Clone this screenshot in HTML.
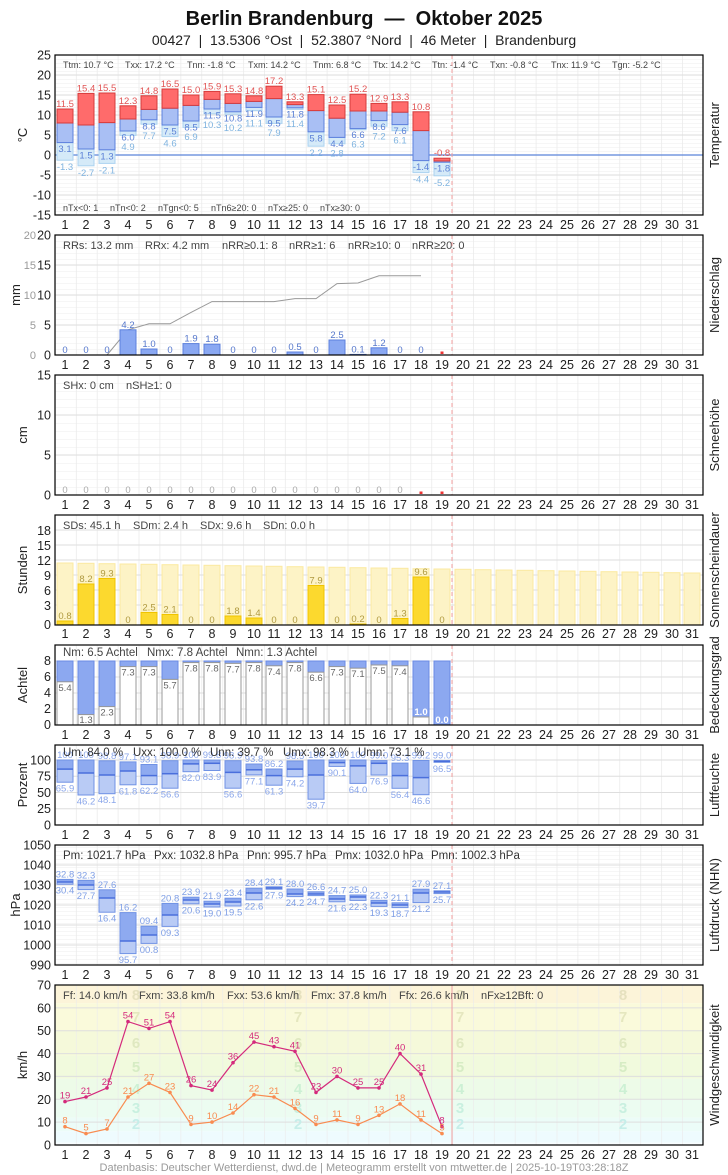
<!DOCTYPE html>
<html><head><meta charset="utf-8"><style>
body{margin:0;background:#fff}
svg{display:block;font-family:"Liberation Sans",sans-serif}
.r{fill:#ff6b6b;stroke:#d63b3b}.b{fill:#a9bff4;stroke:#5c80dd}.l{fill:#d5eaf8;stroke:#acd3f0}
.tr{fill:#e25555}.tb{fill:#5b80d6}.tl{fill:#80b4e0}
.sm{font-size:9.5px;text-anchor:middle}
.st{font-size:9px;fill:#444}
.st2{font-size:11px;fill:#444}
.yt{font-size:12.5px;fill:#222;text-anchor:end}
.dl{font-size:12.5px;fill:#222;text-anchor:middle}
.ax{font-size:13px;fill:#222}
.frame{fill:none;stroke:#000;stroke-width:1.2}
.hg line{stroke:#dedede;stroke-width:1}
.hd{fill:#d4e0f8;stroke:#7092e4}.hl{fill:#b9cbf5;stroke:#7092e4}
.mn{stroke:#4a6fdc;stroke-width:1.5}
.hb{fill:#8eaaf0}
.cb{fill:#8ca8f0;stroke:#6a8ae4}.cw{fill:#fff;stroke:#999}
.ct{font-size:9.5px;fill:#666;text-anchor:middle}
.sb{fill:#fdf3c6;stroke:#fbe9a0}.sy{fill:#fcd92e;stroke:#f0c400}
.sl{font-size:9.5px;fill:#b09a40;text-anchor:middle}
.pb{font-size:9.5px;fill:#5577cc;text-anchor:middle}
.bf{font-size:15px;font-weight:bold;text-anchor:middle}
</style></head><body>
<svg width="728" height="1175" viewBox="0 0 728 1175" xmlns="http://www.w3.org/2000/svg">
<defs>
<pattern id="vg" x="55" y="0" width="20.9" height="10" patternUnits="userSpaceOnUse"><rect x="-0.8" y="0" width="1.6" height="10" fill="#ebebeb"/></pattern>
<pattern id="m4" x="0" y="55" width="10" height="4" patternUnits="userSpaceOnUse"><rect x="0" y="0" width="10" height="0.6" fill="#f0f0f0"/></pattern>
<pattern id="m6" x="0" y="235" width="10" height="6" patternUnits="userSpaceOnUse"><rect x="0" y="0" width="10" height="0.6" fill="#f0f0f0"/></pattern>
<pattern id="m8" x="0" y="375" width="10" height="8" patternUnits="userSpaceOnUse"><rect x="0" y="0" width="10" height="0.6" fill="#f0f0f0"/></pattern>
<g id="dl">
<text class="dl" x="65">1</text><text class="dl" x="86">2</text><text class="dl" x="107">3</text><text class="dl" x="128">4</text><text class="dl" x="149">5</text><text class="dl" x="170">6</text><text class="dl" x="191">7</text><text class="dl" x="212">8</text><text class="dl" x="233">9</text><text class="dl" x="254">10</text><text class="dl" x="274">11</text><text class="dl" x="295">12</text><text class="dl" x="316">13</text><text class="dl" x="337">14</text><text class="dl" x="358">15</text><text class="dl" x="379">16</text><text class="dl" x="400">17</text><text class="dl" x="421">18</text><text class="dl" x="442">19</text><text class="dl" x="463">20</text><text class="dl" x="483">21</text><text class="dl" x="504">22</text><text class="dl" x="525">23</text><text class="dl" x="546">24</text><text class="dl" x="567">25</text><text class="dl" x="588">26</text><text class="dl" x="609">27</text><text class="dl" x="630">28</text><text class="dl" x="651">29</text><text class="dl" x="672">30</text><text class="dl" x="692">31</text>
</g>
</defs>

<text x="364" y="25" text-anchor="middle" font-size="20" font-weight="bold" fill="#111">Berlin Brandenburg&#160; — &#160;Oktober 2025</text>
<text x="364" y="45" text-anchor="middle" font-size="14" fill="#222">00427&#160; | &#160;13.5306 °Ost&#160; | &#160;52.3807 °Nord&#160; | &#160;46 Meter&#160; | &#160;Brandenburg</text>

<!-- ============ TEMPERATURE ============ -->
<rect x="55" y="55" width="648" height="160" fill="url(#m4)"/>
<rect x="55" y="55" width="648" height="160" fill="url(#vg)"/>
<g class="hg"><line x1="55" x2="703" y1="75" y2="75"/><line x1="55" x2="703" y1="95" y2="95"/><line x1="55" x2="703" y1="115" y2="115"/><line x1="55" x2="703" y1="135" y2="135"/><line x1="55" x2="703" y1="175" y2="175"/><line x1="55" x2="703" y1="195" y2="195"/></g>
<line x1="55" x2="703" y1="155" y2="155" stroke="#5b85d9" stroke-width="1.3"/>
<g class="yt"><text x="51" y="59.5">25</text><text x="51" y="79.5">20</text><text x="51" y="99.5">15</text><text x="51" y="119.5">10</text><text x="51" y="139.5">5</text><text x="51" y="159.5">0</text><text x="51" y="179.5">-5</text><text x="51" y="199.5">-10</text><text x="51" y="219.5">-15</text></g>
<g class="st"><text x="63" y="68">Ttm: 10.7 °C</text><text x="125" y="68">Txx: 17.2 °C</text><text x="187" y="68">Tnn: -1.8 °C</text><text x="248" y="68">Txm: 14.2 °C</text><text x="313" y="68">Tnm: 6.8 °C</text><text x="373" y="68">Ttx: 14.2 °C</text><text x="432" y="68">Ttn: -1.4 °C</text><text x="490" y="68">Txn: -0.8 °C</text><text x="551" y="68">Tnx: 11.9 °C</text><text x="612" y="68">Tgn: -5.2 °C</text>
<text x="63" y="211">nTx&lt;0: 1</text><text x="110" y="211">nTn&lt;0: 2</text><text x="158" y="211">nTgn&lt;0: 5</text><text x="211" y="211">nTn6≥20: 0</text><text x="268" y="211">nTx≥25: 0</text><text x="320" y="211">nTx≥30: 0</text></g>
<g class="sm">
<g transform="translate(65,0)"><rect class="l" x="-8" width="16" y="142.6" height="17.6"/><rect class="b" x="-8" width="16" y="123" height="19.6"/><rect class="r" x="-8" width="16" y="109" height="14"/><text class="tr" y="107">11.5</text><text class="tb" y="152.1">3.1</text><text class="tl" y="170.2">-1.3</text></g>
<g transform="translate(86,0)"><rect class="l" x="-8" width="16" y="149" height="16.8"/><rect class="b" x="-8" width="16" y="125" height="24"/><rect class="r" x="-8" width="16" y="93.4" height="31.6"/><text class="tr" y="91.4">15.4</text><text class="tb" y="158.5">1.5</text><text class="tl" y="175.8">-2.7</text></g>
<g transform="translate(107,0)"><rect class="l" x="-8" width="16" y="149.8" height="13.6"/><rect class="b" x="-8" width="16" y="122.6" height="27.2"/><rect class="r" x="-8" width="16" y="93" height="29.6"/><text class="tr" y="91">15.5</text><text class="tb" y="159.3">1.3</text><text class="tl" y="173.4">-2.1</text></g>
<g transform="translate(128,0)"><rect class="l" x="-8" width="16" y="131" height="4.4"/><rect class="b" x="-8" width="16" y="119" height="12"/><rect class="r" x="-8" width="16" y="105.8" height="13.2"/><text class="tr" y="103.8">12.3</text><text class="tb" y="140.5">6.0</text><text class="tl" y="150">4.9</text></g>
<g transform="translate(149,0)"><rect class="l" x="-8" width="16" y="119.8" height="4.4"/><rect class="b" x="-8" width="16" y="109.4" height="10.4"/><rect class="r" x="-8" width="16" y="95.8" height="13.6"/><text class="tr" y="93.8">14.8</text><text class="tb" y="129.3">8.8</text><text class="tl" y="138.8">7.7</text></g>
<g transform="translate(170,0)"><rect class="l" x="-8" width="16" y="125" height="11.6"/><rect class="b" x="-8" width="16" y="108.2" height="16.8"/><rect class="r" x="-8" width="16" y="89" height="19.2"/><text class="tr" y="87">16.5</text><text class="tb" y="134.5">7.5</text><text class="tl" y="146.6">4.6</text></g>
<g transform="translate(191,0)"><rect class="l" x="-8" width="16" y="121" height="6.4"/><rect class="b" x="-8" width="16" y="105.4" height="15.6"/><rect class="r" x="-8" width="16" y="95" height="10.4"/><text class="tr" y="93">15.0</text><text class="tb" y="130.5">8.5</text><text class="tl" y="140">6.9</text></g>
<g transform="translate(212,0)"><rect class="l" x="-8" width="16" y="109" height="4.8"/><rect class="b" x="-8" width="16" y="99.4" height="9.6"/><rect class="r" x="-8" width="16" y="91.4" height="8"/><text class="tr" y="89.4">15.9</text><text class="tb" y="118.5">11.5</text><text class="tl" y="128">10.3</text></g>
<g transform="translate(233,0)"><rect class="l" x="-8" width="16" y="111.8" height="2.4"/><rect class="b" x="-8" width="16" y="103.4" height="8.4"/><rect class="r" x="-8" width="16" y="93.8" height="9.6"/><text class="tr" y="91.8">15.3</text><text class="tb" y="121.3">10.8</text><text class="tl" y="130.8">10.2</text></g>
<g transform="translate(254,0)"><rect class="l" x="-8" width="16" y="107.4" height="3.2"/><rect class="b" x="-8" width="16" y="101.4" height="6"/><rect class="r" x="-8" width="16" y="95.8" height="5.6"/><text class="tr" y="93.8">14.8</text><text class="tb" y="116.9">11.9</text><text class="tl" y="126.4">11.1</text></g>
<g transform="translate(274,0)"><rect class="l" x="-8" width="16" y="117" height="6.4"/><rect class="b" x="-8" width="16" y="98.6" height="18.4"/><rect class="r" x="-8" width="16" y="86.2" height="12.4"/><text class="tr" y="84.2">17.2</text><text class="tb" y="126.5">9.5</text><text class="tl" y="136">7.9</text></g>
<g transform="translate(295,0)"><rect class="l" x="-8" width="16" y="107.8" height="1.6"/><rect class="b" x="-8" width="16" y="104.6" height="3.2"/><rect class="r" x="-8" width="16" y="101.8" height="2.8"/><text class="tr" y="99.8">13.3</text><text class="tb" y="117.3">11.8</text><text class="tl" y="126.8">11.4</text></g>
<g transform="translate(316,0)"><rect class="l" x="-8" width="16" y="131.8" height="14.4"/><rect class="b" x="-8" width="16" y="110.6" height="21.2"/><rect class="r" x="-8" width="16" y="94.6" height="16"/><text class="tr" y="92.6">15.1</text><text class="tb" y="141.3">5.8</text><text class="tl" y="156.2">2.2</text></g>
<g transform="translate(337,0)"><rect class="l" x="-8" width="16" y="137.4" height="6.4"/><rect class="b" x="-8" width="16" y="118.2" height="19.2"/><rect class="r" x="-8" width="16" y="105" height="13.2"/><text class="tr" y="103">12.5</text><text class="tb" y="146.9">4.4</text><text class="tl" y="156.4">2.8</text></g>
<g transform="translate(358,0)"><rect class="l" x="-8" width="16" y="128.6" height="1.2"/><rect class="b" x="-8" width="16" y="111" height="17.6"/><rect class="r" x="-8" width="16" y="94.2" height="16.8"/><text class="tr" y="92.2">15.2</text><text class="tb" y="138.1">6.6</text><text class="tl" y="147.6">6.3</text></g>
<g transform="translate(379,0)"><rect class="l" x="-8" width="16" y="120.6" height="5.6"/><rect class="b" x="-8" width="16" y="111" height="9.6"/><rect class="r" x="-8" width="16" y="103.4" height="7.6"/><text class="tr" y="101.4">12.9</text><text class="tb" y="130.1">8.6</text><text class="tl" y="139.6">7.2</text></g>
<g transform="translate(400,0)"><rect class="l" x="-8" width="16" y="124.6" height="6"/><rect class="b" x="-8" width="16" y="112.2" height="12.4"/><rect class="r" x="-8" width="16" y="101.8" height="10.4"/><text class="tr" y="99.8">13.3</text><text class="tb" y="134.1">7.6</text><text class="tl" y="143.6">6.1</text></g>
<g transform="translate(421,0)"><rect class="l" x="-8" width="16" y="160.6" height="12"/><rect class="b" x="-8" width="16" y="130.6" height="30"/><rect class="r" x="-8" width="16" y="111.8" height="18.8"/><text class="tr" y="109.8">10.8</text><text class="tb" y="170.1">-1.4</text><text class="tl" y="182.6">-4.4</text></g>
<g transform="translate(442,0)"><rect class="l" x="-8" width="16" y="162.2" height="13.6"/><rect class="b" x="-8" width="16" y="161" height="1.2"/><rect class="r" x="-8" width="16" y="158.2" height="2.8"/><text class="tr" y="156.2">-0.8</text><text class="tb" y="171.7">-1.8</text><text class="tl" y="185.8">-5.2</text></g>
</g>
<line x1="452" x2="452" y1="55" y2="215" stroke="#f4a0a0" stroke-dasharray="4,3"/>
<rect class="frame" x="55" y="55" width="648" height="160"/>
<use href="#dl" y="229"/>
<text class="ax" transform="translate(27,135) rotate(-90)" text-anchor="middle">°C</text>
<text class="ax" transform="translate(719,135) rotate(-90)" text-anchor="middle">Temperatur</text>

<!-- ============ PRECIP ============ -->
<rect x="55" y="235" width="648" height="120" fill="url(#m6)"/>
<rect x="55" y="235" width="648" height="120" fill="url(#vg)"/>
<g class="hg"><line x1="55" x2="703" y1="265" y2="265"/><line x1="55" x2="703" y1="295" y2="295"/><line x1="55" x2="703" y1="325" y2="325"/></g>
<g class="yt"><text x="51" y="239.5">20</text><text x="51" y="269.5">15</text><text x="51" y="299.5">10</text><text x="51" y="329.5">5</text><text x="51" y="359.5">0</text></g>
<g class="yt" style="fill:#999;font-size:11px"><text x="36" y="239">20</text><text x="36" y="269">15</text><text x="36" y="299">10</text><text x="36" y="329">5</text><text x="36" y="359">0</text></g>
<g class="st2"><text x="63" y="249">RRs: 13.2 mm</text><text x="145" y="249">RRx: 4.2 mm</text><text x="222" y="249">nRR≥0.1: 8</text><text x="289" y="249">nRR≥1: 6</text><text x="348" y="249">nRR≥10: 0</text><text x="412" y="249">nRR≥20: 0</text></g>
<polyline fill="none" stroke="#999" stroke-width="1" points="107,355 128,329.8 149,323.8 170,323.8 191,312.4 212,301.6 233,301.6 254,301.6 274,301.6 295,298.6 316,298.6 337,283.6 358,283 379,275.8 400,275.8 421,275.8"/>
<g fill="#8aa8f2" stroke="#5c80dd">
<rect x="120" y="329.8" width="16" height="25.2"/><rect x="141" y="349" width="16" height="6"/><rect x="183" y="343.6" width="16" height="11.4"/><rect x="204" y="344.2" width="16" height="10.8"/><rect x="287" y="352" width="16" height="3"/><rect x="329" y="340" width="16" height="15"/><rect x="350" y="354.4" width="16" height="0.6"/><rect x="371" y="347.8" width="16" height="7.2"/></g>
<g class="pb"><text x="65" y="353">0</text><text x="86" y="353">0</text><text x="107" y="353">0</text><text x="128" y="327.8">4.2</text><text x="149" y="347">1.0</text><text x="170" y="353">0</text><text x="191" y="341.6">1.9</text><text x="212" y="342.2">1.8</text><text x="233" y="353">0</text><text x="254" y="353">0</text><text x="274" y="353">0</text><text x="295" y="350">0.5</text><text x="316" y="353">0</text><text x="337" y="338">2.5</text><text x="358" y="352.4">0.1</text><text x="379" y="345.8">1.2</text><text x="400" y="353">0</text><text x="421" y="353">0</text></g>
<rect x="440.5" y="351.5" width="3" height="2.5" fill="#e33"/>
<line x1="452" x2="452" y1="235" y2="355" stroke="#f4a0a0" stroke-dasharray="4,3"/>
<rect class="frame" x="55" y="235" width="648" height="120"/>
<use href="#dl" y="369"/>
<text class="ax" transform="translate(20,295) rotate(-90)" text-anchor="middle">mm</text>
<text class="ax" transform="translate(719,295) rotate(-90)" text-anchor="middle">Niederschlag</text>

<!-- ============ SNOW ============ -->
<rect x="55" y="375" width="648" height="120" fill="url(#m8)"/>
<rect x="55" y="375" width="648" height="120" fill="url(#vg)"/>
<g class="hg"><line x1="55" x2="703" y1="415" y2="415"/><line x1="55" x2="703" y1="455" y2="455"/></g>
<g class="yt"><text x="51" y="379.5">15</text><text x="51" y="419.5">10</text><text x="51" y="459.5">5</text><text x="51" y="499.5">0</text></g>
<g class="st2"><text x="63" y="389">SHx: 0 cm</text><text x="126" y="389">nSH≥1: 0</text></g>
<g class="sm" fill="#aaa"><text x="65" y="493">0</text><text x="86" y="493">0</text><text x="107" y="493">0</text><text x="128" y="493">0</text><text x="149" y="493">0</text><text x="170" y="493">0</text><text x="191" y="493">0</text><text x="212" y="493">0</text><text x="233" y="493">0</text><text x="254" y="493">0</text><text x="274" y="493">0</text><text x="295" y="493">0</text><text x="316" y="493">0</text><text x="337" y="493">0</text><text x="358" y="493">0</text><text x="379" y="493">0</text><text x="400" y="493">0</text></g>
<rect x="419.5" y="491.5" width="3" height="2.5" fill="#e33"/><rect x="440.5" y="491.5" width="3" height="2.5" fill="#e33"/>
<line x1="452" x2="452" y1="375" y2="495" stroke="#f4a0a0" stroke-dasharray="4,3"/>
<rect class="frame" x="55" y="375" width="648" height="120"/>
<use href="#dl" y="509"/>
<text class="ax" transform="translate(27,435) rotate(-90)" text-anchor="middle">cm</text>
<text class="ax" transform="translate(719,435) rotate(-90)" text-anchor="middle">Schneehöhe</text>

<!-- ============ SUN ============ -->
<rect x="55" y="515" width="648" height="110" fill="url(#vg)"/>
<g class="hg"><line x1="55" x2="703" y1="530" y2="530"/><line x1="55" x2="703" y1="545" y2="545"/><line x1="55" x2="703" y1="560" y2="560"/><line x1="55" x2="703" y1="575" y2="575"/><line x1="55" x2="703" y1="590" y2="590"/><line x1="55" x2="703" y1="605" y2="605"/></g>
<g class="yt"><text x="51" y="535">18</text><text x="51" y="550">15</text><text x="51" y="565">12</text><text x="51" y="580">9</text><text x="51" y="595">6</text><text x="51" y="610">3</text><text x="51" y="629">0</text></g>
<g class="sb">
<rect x="57" y="563" width="16" height="62"/><rect x="78" y="563.3" width="16" height="61.7"/><rect x="99" y="563.7" width="16" height="61.3"/><rect x="120" y="564" width="16" height="61"/><rect x="141" y="564.3" width="16" height="60.7"/><rect x="162" y="564.7" width="16" height="60.3"/><rect x="183" y="565" width="16" height="60"/><rect x="204" y="565.3" width="16" height="59.7"/><rect x="225" y="565.7" width="16" height="59.3"/><rect x="246" y="566" width="16" height="59"/><rect x="266" y="566.3" width="16" height="58.7"/><rect x="287" y="566.7" width="16" height="58.3"/><rect x="308" y="567" width="16" height="58"/><rect x="329" y="567.3" width="16" height="57.7"/><rect x="350" y="567.7" width="16" height="57.3"/><rect x="371" y="568" width="16" height="57"/><rect x="392" y="568.3" width="16" height="56.7"/><rect x="413" y="568.7" width="16" height="56.3"/><rect x="434" y="569" width="16" height="56"/><rect x="455" y="569.3" width="16" height="55.7"/><rect x="475" y="569.7" width="16" height="55.3"/><rect x="496" y="570" width="16" height="55"/><rect x="517" y="570.3" width="16" height="54.7"/><rect x="538" y="570.7" width="16" height="54.3"/><rect x="559" y="571" width="16" height="54"/><rect x="580" y="571.3" width="16" height="53.7"/><rect x="601" y="571.7" width="16" height="53.3"/><rect x="622" y="572" width="16" height="53"/><rect x="643" y="572.3" width="16" height="52.7"/><rect x="664" y="572.7" width="16" height="52.3"/><rect x="684" y="573" width="16" height="52"/></g>
<g class="sy"><rect x="57" y="621" width="16" height="4"/><rect x="78" y="584" width="16" height="41"/><rect x="99" y="578.5" width="16" height="46.5"/><rect x="141" y="612.5" width="16" height="12.5"/><rect x="162" y="614.5" width="16" height="10.5"/><rect x="225" y="616" width="16" height="9"/><rect x="246" y="618" width="16" height="7"/><rect x="308" y="585.5" width="16" height="39.5"/><rect x="350" y="624" width="16" height="1"/><rect x="392" y="618.5" width="16" height="6.5"/><rect x="413" y="577" width="16" height="48"/></g>
<g class="sl"><text x="65" y="619">0.8</text><text x="86" y="582">8.2</text><text x="107" y="576.5">9.3</text><text x="128" y="623">0</text><text x="149" y="610.5">2.5</text><text x="170" y="612.5">2.1</text><text x="191" y="623">0</text><text x="212" y="623">0</text><text x="233" y="614">1.8</text><text x="254" y="616">1.4</text><text x="274" y="623">0</text><text x="295" y="623">0</text><text x="316" y="583.5">7.9</text><text x="337" y="623">0</text><text x="358" y="622">0.2</text><text x="379" y="623">0</text><text x="400" y="616.5">1.3</text><text x="421" y="575">9.6</text><text x="442" y="623">0</text></g>
<g class="st2"><text x="63" y="529">SDs: 45.1 h</text><text x="133" y="529">SDm: 2.4 h</text><text x="200" y="529">SDx: 9.6 h</text><text x="263" y="529">SDn: 0.0 h</text></g>
<line x1="452" x2="452" y1="515" y2="625" stroke="#f4a0a0" stroke-dasharray="4,3"/>
<rect class="frame" x="55" y="515" width="648" height="110"/>
<use href="#dl" y="638"/>
<text class="ax" transform="translate(27,570) rotate(-90)" text-anchor="middle">Stunden</text>
<text class="ax" transform="translate(719,570) rotate(-90)" text-anchor="middle">Sonnenscheindauer</text>

<!-- ============ CLOUD ============ -->
<rect x="55" y="645" width="648" height="80" fill="url(#vg)"/>
<g class="hg"><line x1="55" x2="703" y1="661" y2="661"/><line x1="55" x2="703" y1="677" y2="677"/><line x1="55" x2="703" y1="693" y2="693"/><line x1="55" x2="703" y1="709" y2="709"/></g>
<g class="yt"><text x="51" y="665">8</text><text x="51" y="681">6</text><text x="51" y="697">4</text><text x="51" y="713">2</text><text x="51" y="729">0</text></g>
<g>
<rect class="cb" x="57" y="661" width="16" height="20.8"/><rect class="cw" x="57" y="681.8" width="16" height="43.2"/>
<rect class="cb" x="78" y="661" width="16" height="53.6"/><rect class="cw" x="78" y="714.6" width="16" height="10.4"/>
<rect class="cb" x="99" y="661" width="16" height="45.6"/><rect class="cw" x="99" y="706.6" width="16" height="18.4"/>
<rect class="cb" x="120" y="661" width="16" height="5.6"/><rect class="cw" x="120" y="666.6" width="16" height="58.4"/>
<rect class="cb" x="141" y="661" width="16" height="5.6"/><rect class="cw" x="141" y="666.6" width="16" height="58.4"/>
<rect class="cb" x="162" y="661" width="16" height="18.4"/><rect class="cw" x="162" y="679.4" width="16" height="45.6"/>
<rect class="cb" x="183" y="661" width="16" height="1.6"/><rect class="cw" x="183" y="662.6" width="16" height="62.4"/>
<rect class="cb" x="204" y="661" width="16" height="1.6"/><rect class="cw" x="204" y="662.6" width="16" height="62.4"/>
<rect class="cb" x="225" y="661" width="16" height="2.4"/><rect class="cw" x="225" y="663.4" width="16" height="61.6"/>
<rect class="cb" x="246" y="661" width="16" height="1.6"/><rect class="cw" x="246" y="662.6" width="16" height="62.4"/>
<rect class="cb" x="266" y="661" width="16" height="4.8"/><rect class="cw" x="266" y="665.8" width="16" height="59.2"/>
<rect class="cb" x="287" y="661" width="16" height="1.6"/><rect class="cw" x="287" y="662.6" width="16" height="62.4"/>
<rect class="cb" x="308" y="661" width="16" height="11.2"/><rect class="cw" x="308" y="672.2" width="16" height="52.8"/>
<rect class="cb" x="329" y="661" width="16" height="5.6"/><rect class="cw" x="329" y="666.6" width="16" height="58.4"/>
<rect class="cb" x="350" y="661" width="16" height="7.2"/><rect class="cw" x="350" y="668.2" width="16" height="56.8"/>
<rect class="cb" x="371" y="661" width="16" height="4"/><rect class="cw" x="371" y="665" width="16" height="60"/>
<rect class="cb" x="392" y="661" width="16" height="4.8"/><rect class="cw" x="392" y="665.8" width="16" height="59.2"/>
<rect class="cb" x="413" y="661" width="16" height="56"/><rect class="cw" x="413" y="717" width="16" height="8"/>
<rect class="cb" x="434" y="661" width="16" height="64"/>
</g>
<g class="ct"><text x="65" y="691">5.4</text><text x="86" y="723">1.3</text><text x="107" y="715.5">2.3</text><text x="128" y="675.5">7.3</text><text x="149" y="675.5">7.3</text><text x="170" y="688.5">5.7</text><text x="191" y="671.5">7.8</text><text x="212" y="671.5">7.8</text><text x="233" y="672.5">7.7</text><text x="254" y="671.5">7.8</text><text x="274" y="675">7.4</text><text x="295" y="671.5">7.8</text><text x="316" y="681">6.6</text><text x="337" y="675.5">7.3</text><text x="358" y="677">7.1</text><text x="379" y="674">7.5</text><text x="400" y="675">7.4</text></g>
<g class="ct" style="fill:#fff;font-weight:bold"><text x="421" y="715">1.0</text><text x="442" y="723">0.0</text></g>
<g class="st2" style="font-size:11.5px"><text x="63" y="656">Nm: 6.5 Achtel</text><text x="147" y="656">Nmx: 7.8 Achtel</text><text x="236" y="656">Nmn: 1.3 Achtel</text></g>
<line x1="452" x2="452" y1="645" y2="725" stroke="#f4a0a0" stroke-dasharray="4,3"/>
<rect class="frame" x="55" y="645" width="648" height="80"/>
<use href="#dl" y="739"/>
<text class="ax" transform="translate(27,685) rotate(-90)" text-anchor="middle">Achtel</text>
<text class="ax" transform="translate(719,685) rotate(-90)" text-anchor="middle">Bedeckungsgrad</text>

<!-- ============ HUMIDITY ============ -->
<rect x="55" y="745" width="648" height="80" fill="url(#vg)"/>
<g class="hg"><line x1="55" x2="703" y1="760" y2="760"/><line x1="55" x2="703" y1="776.25" y2="776.25"/><line x1="55" x2="703" y1="792.5" y2="792.5"/><line x1="55" x2="703" y1="808.75" y2="808.75"/></g>
<g class="yt"><text x="51" y="764.5">100</text><text x="51" y="780.5">75</text><text x="51" y="797">50</text><text x="51" y="813">25</text><text x="51" y="829.5">0</text></g>
<g>
<g transform="translate(65,0)"><rect class="hd" x="-8" width="16" y="760" height="9.1" style="fill:#8eaaf0"/><rect class="hl" x="-8" width="16" y="769.1" height="13.1"/><line class="mn" x1="-8" x2="8" y1="769.1" y2="769.1"/></g>
<g transform="translate(86,0)"><rect class="hd" x="-8" width="16" y="760" height="13" style="fill:#8eaaf0"/><rect class="hl" x="-8" width="16" y="773" height="22"/><line class="mn" x1="-8" x2="8" y1="773" y2="773"/></g>
<g transform="translate(107,0)"><rect class="hd" x="-8" width="16" y="760.8" height="14.2" style="fill:#8eaaf0"/><rect class="hl" x="-8" width="16" y="775" height="18.7"/><line class="mn" x1="-8" x2="8" y1="775" y2="775"/></g>
<g transform="translate(128,0)"><rect class="hd" x="-8" width="16" y="761.9" height="9.1" style="fill:#8eaaf0"/><rect class="hl" x="-8" width="16" y="771" height="13.8"/><line class="mn" x1="-8" x2="8" y1="771" y2="771"/></g>
<g transform="translate(149,0)"><rect class="hd" x="-8" width="16" y="764.5" height="11.1" style="fill:#8eaaf0"/><rect class="hl" x="-8" width="16" y="775.6" height="9"/><line class="mn" x1="-8" x2="8" y1="775.6" y2="775.6"/></g>
<g transform="translate(170,0)"><rect class="hd" x="-8" width="16" y="760.7" height="13" style="fill:#8eaaf0"/><rect class="hl" x="-8" width="16" y="773.7" height="14.5"/><line class="mn" x1="-8" x2="8" y1="773.7" y2="773.7"/></g>
<g transform="translate(191,0)"><rect class="hd" x="-8" width="16" y="760" height="3.9" style="fill:#8eaaf0"/><rect class="hl" x="-8" width="16" y="763.9" height="7.8"/><line class="mn" x1="-8" x2="8" y1="763.9" y2="763.9"/></g>
<g transform="translate(212,0)"><rect class="hd" x="-8" width="16" y="760.1" height="3.2" style="fill:#8eaaf0"/><rect class="hl" x="-8" width="16" y="763.3" height="7.2"/><line class="mn" x1="-8" x2="8" y1="763.3" y2="763.3"/></g>
<g transform="translate(233,0)"><rect class="hd" x="-8" width="16" y="760.7" height="11.7" style="fill:#8eaaf0"/><rect class="hl" x="-8" width="16" y="772.4" height="15.8"/><line class="mn" x1="-8" x2="8" y1="772.4" y2="772.4"/></g>
<g transform="translate(254,0)"><rect class="hd" x="-8" width="16" y="764" height="5.8" style="fill:#8eaaf0"/><rect class="hl" x="-8" width="16" y="769.8" height="5.1"/><line class="mn" x1="-8" x2="8" y1="769.8" y2="769.8"/></g>
<g transform="translate(274,0)"><rect class="hd" x="-8" width="16" y="769" height="6.6" style="fill:#8eaaf0"/><rect class="hl" x="-8" width="16" y="775.6" height="9.6"/><line class="mn" x1="-8" x2="8" y1="775.6" y2="775.6"/></g>
<g transform="translate(295,0)"><rect class="hd" x="-8" width="16" y="761" height="8.1" style="fill:#8eaaf0"/><rect class="hl" x="-8" width="16" y="769.1" height="7.7"/><line class="mn" x1="-8" x2="8" y1="769.1" y2="769.1"/></g>
<g transform="translate(316,0)"><rect class="hd" x="-8" width="16" y="760" height="15" style="fill:#8eaaf0"/><rect class="hl" x="-8" width="16" y="775" height="24.2"/><line class="mn" x1="-8" x2="8" y1="775" y2="775"/></g>
<g transform="translate(337,0)"><rect class="hd" x="-8" width="16" y="760" height="2.6" style="fill:#8eaaf0"/><rect class="hl" x="-8" width="16" y="762.6" height="3.8"/><line class="mn" x1="-8" x2="8" y1="762.6" y2="762.6"/></g>
<g transform="translate(358,0)"><rect class="hd" x="-8" width="16" y="760" height="5.9" style="fill:#8eaaf0"/><rect class="hl" x="-8" width="16" y="765.9" height="17.5"/><line class="mn" x1="-8" x2="8" y1="765.9" y2="765.9"/></g>
<g transform="translate(379,0)"><rect class="hd" x="-8" width="16" y="760.6" height="2.7" style="fill:#8eaaf0"/><rect class="hl" x="-8" width="16" y="763.3" height="11.7"/><line class="mn" x1="-8" x2="8" y1="763.3" y2="763.3"/></g>
<g transform="translate(400,0)"><rect class="hd" x="-8" width="16" y="763.1" height="12.5" style="fill:#8eaaf0"/><rect class="hl" x="-8" width="16" y="775.6" height="12.7"/><line class="mn" x1="-8" x2="8" y1="775.6" y2="775.6"/></g>
<g transform="translate(421,0)"><rect class="hd" x="-8" width="16" y="760.5" height="17.1" style="fill:#8eaaf0"/><rect class="hl" x="-8" width="16" y="777.6" height="17.1"/><line class="mn" x1="-8" x2="8" y1="777.6" y2="777.6"/></g>
<g transform="translate(442,0)"><rect class="hd" x="-8" width="16" y="760.6" height="0.7" style="fill:#8eaaf0"/><rect class="hl" x="-8" width="16" y="761.3" height="1"/><line class="mn" x1="-8" x2="8" y1="761.3" y2="761.3"/></g>
</g>
<g class="sm" fill="#8aa6ea"><text x="65" y="758">100</text><text x="86" y="758">100</text><text x="107" y="758.8">98.8</text><text x="128" y="759.9">97.1</text><text x="149" y="762.5">93.1</text><text x="170" y="758.7">98.9</text><text x="191" y="758">100</text><text x="212" y="758.1">99.8</text><text x="233" y="758.7">98.9</text><text x="254" y="762">93.8</text><text x="274" y="767">86.2</text><text x="295" y="759">98.5</text><text x="316" y="758">100</text><text x="337" y="758">100</text><text x="358" y="758">100</text><text x="379" y="758.6">99.0</text><text x="400" y="761.1">95.3</text><text x="421" y="758.5">99.2</text><text x="442" y="758.6">99.0</text>
<text x="65" y="791.7">65.9</text><text x="86" y="804.5">46.2</text><text x="107" y="803.2">48.1</text><text x="128" y="794.3">61.8</text><text x="149" y="794.1">62.2</text><text x="170" y="797.7">56.6</text><text x="191" y="781.2">82.0</text><text x="212" y="780">83.9</text><text x="233" y="797.7">56.6</text><text x="254" y="784.4">77.1</text><text x="274" y="794.7">61.3</text><text x="295" y="786.3">74.2</text><text x="316" y="808.7">39.7</text><text x="337" y="775.9">90.1</text><text x="358" y="792.9">64.0</text><text x="379" y="784.5">76.9</text><text x="400" y="797.8">56.4</text><text x="421" y="804.2">46.6</text><text x="442" y="771.8">96.5</text></g>
<g style="font-size:11.5px;fill:#333"><text x="63" y="756">Um: 84.0 %</text><text x="133" y="756">Uxx: 100.0 %</text><text x="210" y="756">Unn: 39.7 %</text><text x="283" y="756">Umx: 98.3 %</text><text x="358" y="756">Umn: 73.1 %</text></g>
<line x1="452" x2="452" y1="745" y2="825" stroke="#f4a0a0" stroke-dasharray="4,3"/>
<rect class="frame" x="55" y="745" width="648" height="80"/>
<use href="#dl" y="839"/>
<text class="ax" transform="translate(27,785) rotate(-90)" text-anchor="middle">Prozent</text>
<text class="ax" transform="translate(719,785) rotate(-90)" text-anchor="middle">Luftfeuchte</text>

<!-- ============ PRESSURE ============ -->
<rect x="55" y="845" width="648" height="120" fill="url(#m4)"/>
<rect x="55" y="845" width="648" height="120" fill="url(#vg)"/>
<g class="hg"><line x1="55" x2="703" y1="865" y2="865"/><line x1="55" x2="703" y1="885" y2="885"/><line x1="55" x2="703" y1="905" y2="905"/><line x1="55" x2="703" y1="925" y2="925"/><line x1="55" x2="703" y1="945" y2="945"/></g>
<g class="yt"><text x="51" y="849.5">1050</text><text x="51" y="869.5">1040</text><text x="51" y="889.5">1030</text><text x="51" y="909.5">1020</text><text x="51" y="929.5">1010</text><text x="51" y="949.5">1000</text><text x="51" y="969.5">990</text></g>
<g>
<g transform="translate(65,0)"><rect class="hd" x="-8" width="16" y="879.4" height="2.6" style="fill:#8eaaf0"/><rect class="hl" x="-8" width="16" y="882" height="2.2"/><line class="mn" x1="-8" x2="8" y1="882" y2="882"/></g>
<g transform="translate(86,0)"><rect class="hd" x="-8" width="16" y="880.4" height="4.6" style="fill:#8eaaf0"/><rect class="hl" x="-8" width="16" y="885" height="4.6"/><line class="mn" x1="-8" x2="8" y1="885" y2="885"/></g>
<g transform="translate(107,0)"><rect class="hd" x="-8" width="16" y="889.8" height="8.2" style="fill:#8eaaf0"/><rect class="hl" x="-8" width="16" y="898" height="14.2"/><line class="mn" x1="-8" x2="8" y1="898" y2="898"/></g>
<g transform="translate(128,0)"><rect class="hd" x="-8" width="16" y="912.6" height="28.4" style="fill:#8eaaf0"/><rect class="hl" x="-8" width="16" y="941" height="12.6"/><line class="mn" x1="-8" x2="8" y1="941" y2="941"/></g>
<g transform="translate(149,0)"><rect class="hd" x="-8" width="16" y="926.2" height="8.8" style="fill:#8eaaf0"/><rect class="hl" x="-8" width="16" y="935" height="8.4"/><line class="mn" x1="-8" x2="8" y1="935" y2="935"/></g>
<g transform="translate(170,0)"><rect class="hd" x="-8" width="16" y="903.4" height="11.6" style="fill:#8eaaf0"/><rect class="hl" x="-8" width="16" y="915" height="11.4"/><line class="mn" x1="-8" x2="8" y1="915" y2="915"/></g>
<g transform="translate(191,0)"><rect class="hd" x="-8" width="16" y="897.2" height="2.8" style="fill:#8eaaf0"/><rect class="hl" x="-8" width="16" y="900" height="3.8"/><line class="mn" x1="-8" x2="8" y1="900" y2="900"/></g>
<g transform="translate(212,0)"><rect class="hd" x="-8" width="16" y="901.2" height="2.8" style="fill:#8eaaf0"/><rect class="hl" x="-8" width="16" y="904" height="3"/><line class="mn" x1="-8" x2="8" y1="904" y2="904"/></g>
<g transform="translate(233,0)"><rect class="hd" x="-8" width="16" y="898.2" height="3.8" style="fill:#8eaaf0"/><rect class="hl" x="-8" width="16" y="902" height="4"/><line class="mn" x1="-8" x2="8" y1="902" y2="902"/></g>
<g transform="translate(254,0)"><rect class="hd" x="-8" width="16" y="888.2" height="4.8" style="fill:#8eaaf0"/><rect class="hl" x="-8" width="16" y="893" height="6.8"/><line class="mn" x1="-8" x2="8" y1="893" y2="893"/></g>
<g transform="translate(274,0)"><rect class="hd" x="-8" width="16" y="886.8" height="1.2" style="fill:#8eaaf0"/><rect class="hl" x="-8" width="16" y="888" height="1.2"/><line class="mn" x1="-8" x2="8" y1="888" y2="888"/></g>
<g transform="translate(295,0)"><rect class="hd" x="-8" width="16" y="889" height="5" style="fill:#8eaaf0"/><rect class="hl" x="-8" width="16" y="894" height="2.6"/><line class="mn" x1="-8" x2="8" y1="894" y2="894"/></g>
<g transform="translate(316,0)"><rect class="hd" x="-8" width="16" y="891.8" height="2.2" style="fill:#8eaaf0"/><rect class="hl" x="-8" width="16" y="894" height="1.6"/><line class="mn" x1="-8" x2="8" y1="894" y2="894"/></g>
<g transform="translate(337,0)"><rect class="hd" x="-8" width="16" y="895.6" height="3.4" style="fill:#8eaaf0"/><rect class="hl" x="-8" width="16" y="899" height="2.8"/><line class="mn" x1="-8" x2="8" y1="899" y2="899"/></g>
<g transform="translate(358,0)"><rect class="hd" x="-8" width="16" y="895" height="2" style="fill:#8eaaf0"/><rect class="hl" x="-8" width="16" y="897" height="3.4"/><line class="mn" x1="-8" x2="8" y1="897" y2="897"/></g>
<g transform="translate(379,0)"><rect class="hd" x="-8" width="16" y="900.4" height="2.6" style="fill:#8eaaf0"/><rect class="hl" x="-8" width="16" y="903" height="3.4"/><line class="mn" x1="-8" x2="8" y1="903" y2="903"/></g>
<g transform="translate(400,0)"><rect class="hd" x="-8" width="16" y="902.8" height="2.2" style="fill:#8eaaf0"/><rect class="hl" x="-8" width="16" y="905" height="2.6"/><line class="mn" x1="-8" x2="8" y1="905" y2="905"/></g>
<g transform="translate(421,0)"><rect class="hd" x="-8" width="16" y="889.2" height="3.8" style="fill:#8eaaf0"/><rect class="hl" x="-8" width="16" y="893" height="9.6"/><line class="mn" x1="-8" x2="8" y1="893" y2="893"/></g>
<g transform="translate(442,0)"><rect class="hd" x="-8" width="16" y="890.8" height="1.2" style="fill:#8eaaf0"/><rect class="hl" x="-8" width="16" y="892" height="1.6"/><line class="mn" x1="-8" x2="8" y1="892" y2="892"/></g>
</g>
<g class="sm" fill="#7f9fe6"><text x="65" y="877.4">32.8</text><text x="86" y="878.4">32.3</text><text x="107" y="887.8">27.6</text><text x="128" y="910.6">16.2</text><text x="149" y="924.2">09.4</text><text x="170" y="901.4">20.8</text><text x="191" y="895.2">23.9</text><text x="212" y="899.2">21.9</text><text x="233" y="896.2">23.4</text><text x="254" y="886.2">28.4</text><text x="274" y="884.8">29.1</text><text x="295" y="887">28.0</text><text x="316" y="889.8">26.6</text><text x="337" y="893.6">24.7</text><text x="358" y="893">25.0</text><text x="379" y="898.4">22.3</text><text x="400" y="900.8">21.1</text><text x="421" y="887.2">27.9</text><text x="442" y="888.8">27.1</text>
<text x="65" y="893.7">30.4</text><text x="86" y="899.1">27.7</text><text x="107" y="921.7">16.4</text><text x="128" y="963.1">95.7</text><text x="149" y="952.9">00.8</text><text x="170" y="935.9">09.3</text><text x="191" y="913.3">20.6</text><text x="212" y="916.5">19.0</text><text x="233" y="915.5">19.5</text><text x="254" y="909.3">22.6</text><text x="274" y="898.7">27.9</text><text x="295" y="906.1">24.2</text><text x="316" y="905.1">24.7</text><text x="337" y="911.3">21.6</text><text x="358" y="909.9">22.3</text><text x="379" y="915.9">19.3</text><text x="400" y="917.1">18.7</text><text x="421" y="912.1">21.2</text><text x="442" y="903.1">25.7</text></g>
<g style="font-size:11.5px;fill:#333"><text x="63" y="859">Pm: 1021.7 hPa</text><text x="154" y="859">Pxx: 1032.8 hPa</text><text x="247" y="859">Pnn: 995.7 hPa</text><text x="335" y="859">Pmx: 1032.0 hPa</text><text x="431" y="859">Pmn: 1002.3 hPa</text></g>
<line x1="452" x2="452" y1="845" y2="965" stroke="#f4a0a0" stroke-dasharray="4,3"/>
<rect class="frame" x="55" y="845" width="648" height="120"/>
<use href="#dl" y="979"/>
<text class="ax" transform="translate(20,905) rotate(-90)" text-anchor="middle">hPa</text>
<text class="ax" transform="translate(719,905) rotate(-90)" text-anchor="middle">Luftdruck (NHN)</text>

<!-- ============ WIND ============ -->
<rect x="55" y="985" width="648" height="18.3" fill="#fcf4d9"/>
<rect x="55" y="1003.3" width="648" height="27.4" fill="#fafadb"/>
<rect x="55" y="1030.7" width="648" height="25.2" fill="#f5f9da"/>
<rect x="55" y="1055.9" width="648" height="22.8" fill="#f1fadd"/>
<rect x="55" y="1078.7" width="648" height="20.6" fill="#edfbe8"/>
<rect x="55" y="1099.3" width="648" height="18.3" fill="#ecfcf1"/>
<rect x="55" y="1117.6" width="648" height="13.7" fill="#ecfcf8"/>
<rect x="55" y="1131.3" width="648" height="11.4" fill="#eefbfe"/>
<rect x="55" y="1142.7" width="648" height="2.3" fill="#f8fdff"/>
<rect x="55" y="985" width="648" height="160" fill="url(#vg)" opacity="0.8"/>
<g class="hg"><line x1="55" x2="703" y1="1007.9" y2="1007.9"/><line x1="55" x2="703" y1="1030.7" y2="1030.7"/><line x1="55" x2="703" y1="1053.6" y2="1053.6"/><line x1="55" x2="703" y1="1076.4" y2="1076.4"/><line x1="55" x2="703" y1="1099.3" y2="1099.3"/><line x1="55" x2="703" y1="1122.1" y2="1122.1"/></g>
<g class="bf">
<g fill="#e6e1bf"><text x="136" y="1000">8</text><text x="298" y="1000">8</text><text x="460" y="1000">8</text><text x="623" y="1000">8</text></g>
<g fill="#e5e7bf"><text x="136" y="1022">7</text><text x="298" y="1022">7</text><text x="460" y="1022">7</text><text x="623" y="1022">7</text></g>
<g fill="#dfe8c0"><text x="136" y="1048">6</text><text x="298" y="1048">6</text><text x="460" y="1048">6</text><text x="623" y="1048">6</text></g>
<g fill="#d6ecc4"><text x="136" y="1072">5</text><text x="298" y="1072">5</text><text x="460" y="1072">5</text><text x="623" y="1072">5</text></g>
<g fill="#ccf0d4"><text x="136" y="1094">4</text><text x="298" y="1094">4</text><text x="460" y="1094">4</text><text x="623" y="1094">4</text></g>
<g fill="#c9f0e0"><text x="136" y="1113">3</text><text x="298" y="1113">3</text><text x="460" y="1113">3</text><text x="623" y="1113">3</text></g>
<g fill="#c6eee9"><text x="136" y="1129">2</text><text x="298" y="1129">2</text><text x="460" y="1129">2</text><text x="623" y="1129">2</text></g>
</g>
<g class="yt"><text x="51" y="989.5">70</text><text x="51" y="1012.4">60</text><text x="51" y="1035.2">50</text><text x="51" y="1058.1">40</text><text x="51" y="1080.9">30</text><text x="51" y="1103.8">20</text><text x="51" y="1126.6">10</text><text x="51" y="1149.5">0</text></g>
<polyline fill="none" stroke="#f98b50" stroke-width="1.2" points="65,1126.7 86,1133.6 107,1129 128,1097 149,1083.3 170,1092.4 191,1124.4 212,1122.1 233,1113 254,1094.7 274,1097 295,1108.4 316,1124.4 337,1119.9 358,1124.4 379,1115.3 400,1103.9 421,1119.9 442,1133.6"/>
<polyline fill="none" stroke="#d42a7c" stroke-width="1.2" points="65,1101.6 86,1097 107,1087.9 128,1021.6 149,1028.4 170,1021.6 191,1085.6 212,1090.1 233,1062.7 254,1042.1 274,1046.7 295,1051.3 316,1092.4 337,1076.4 358,1087.9 379,1087.9 400,1053.6 421,1074.1 442,1126.7"/>
<g fill="#f98b50"><circle cx="65" cy="1126.7" r="1.8"/><circle cx="86" cy="1133.6" r="1.8"/><circle cx="107" cy="1129" r="1.8"/><circle cx="128" cy="1097" r="1.8"/><circle cx="149" cy="1083.3" r="1.8"/><circle cx="170" cy="1092.4" r="1.8"/><circle cx="191" cy="1124.4" r="1.8"/><circle cx="212" cy="1122.1" r="1.8"/><circle cx="233" cy="1113" r="1.8"/><circle cx="254" cy="1094.7" r="1.8"/><circle cx="274" cy="1097" r="1.8"/><circle cx="295" cy="1108.4" r="1.8"/><circle cx="316" cy="1124.4" r="1.8"/><circle cx="337" cy="1119.9" r="1.8"/><circle cx="358" cy="1124.4" r="1.8"/><circle cx="379" cy="1115.3" r="1.8"/><circle cx="400" cy="1103.9" r="1.8"/><circle cx="421" cy="1119.9" r="1.8"/><circle cx="442" cy="1133.6" r="1.8"/></g>
<g fill="#d42a7c"><circle cx="65" cy="1101.6" r="1.8"/><circle cx="86" cy="1097" r="1.8"/><circle cx="107" cy="1087.9" r="1.8"/><circle cx="128" cy="1021.6" r="1.8"/><circle cx="149" cy="1028.4" r="1.8"/><circle cx="170" cy="1021.6" r="1.8"/><circle cx="191" cy="1085.6" r="1.8"/><circle cx="212" cy="1090.1" r="1.8"/><circle cx="233" cy="1062.7" r="1.8"/><circle cx="254" cy="1042.1" r="1.8"/><circle cx="274" cy="1046.7" r="1.8"/><circle cx="295" cy="1051.3" r="1.8"/><circle cx="316" cy="1092.4" r="1.8"/><circle cx="337" cy="1076.4" r="1.8"/><circle cx="358" cy="1087.9" r="1.8"/><circle cx="379" cy="1087.9" r="1.8"/><circle cx="400" cy="1053.6" r="1.8"/><circle cx="421" cy="1074.1" r="1.8"/><circle cx="442" cy="1126.7" r="1.8"/></g>
<g class="sm" fill="#f98b50"><text x="65" y="1123.7">8</text><text x="86" y="1130.6">5</text><text x="107" y="1126">7</text><text x="128" y="1094">21</text><text x="149" y="1080.3">27</text><text x="170" y="1089.4">23</text><text x="191" y="1121.4">9</text><text x="212" y="1119.1">10</text><text x="233" y="1110">14</text><text x="254" y="1091.7">22</text><text x="274" y="1094">21</text><text x="295" y="1105.4">16</text><text x="316" y="1121.4">9</text><text x="337" y="1116.9">11</text><text x="358" y="1121.4">9</text><text x="379" y="1112.3">13</text><text x="400" y="1100.9">18</text><text x="421" y="1116.9">11</text><text x="442" y="1130.6">5</text></g>
<g class="sm" fill="#d42a7c"><text x="65" y="1098.6">19</text><text x="86" y="1094">21</text><text x="107" y="1084.9">25</text><text x="128" y="1018.6">54</text><text x="149" y="1025.4">51</text><text x="170" y="1018.6">54</text><text x="191" y="1082.6">26</text><text x="212" y="1087.1">24</text><text x="233" y="1059.7">36</text><text x="254" y="1039.1">45</text><text x="274" y="1043.7">43</text><text x="295" y="1048.3">41</text><text x="316" y="1089.4">23</text><text x="337" y="1073.4">30</text><text x="358" y="1084.9">25</text><text x="379" y="1084.9">25</text><text x="400" y="1050.6">40</text><text x="421" y="1071.1">31</text><text x="442" y="1123.7">8</text></g>
<g style="font-size:11px;fill:#444"><text x="63" y="999">Ff: 14.0 km/h</text><text x="139" y="999">Fxm: 33.8 km/h</text><text x="227" y="999">Fxx: 53.6 km/h</text><text x="311" y="999">Fmx: 37.8 km/h</text><text x="399" y="999">Ffx: 26.6 km/h</text><text x="481" y="999">nFx≥12Bft: 0</text></g>
<line x1="452" x2="452" y1="985" y2="1145" stroke="#f0a0a0" stroke-width="1"/>
<rect class="frame" x="55" y="985" width="648" height="160"/>
<use href="#dl" y="1159"/>
<text class="ax" transform="translate(27,1065) rotate(-90)" text-anchor="middle">km/h</text>
<text class="ax" transform="translate(719,1065) rotate(-90)" text-anchor="middle">Windgeschwindigkeit</text>

<text x="364" y="1171" text-anchor="middle" font-size="11" fill="#999">Datenbasis: Deutscher Wetterdienst, dwd.de | Meteogramm erstellt von mtwetter.de | 2025-10-19T03:28:18Z</text>
</svg>
</body></html>
